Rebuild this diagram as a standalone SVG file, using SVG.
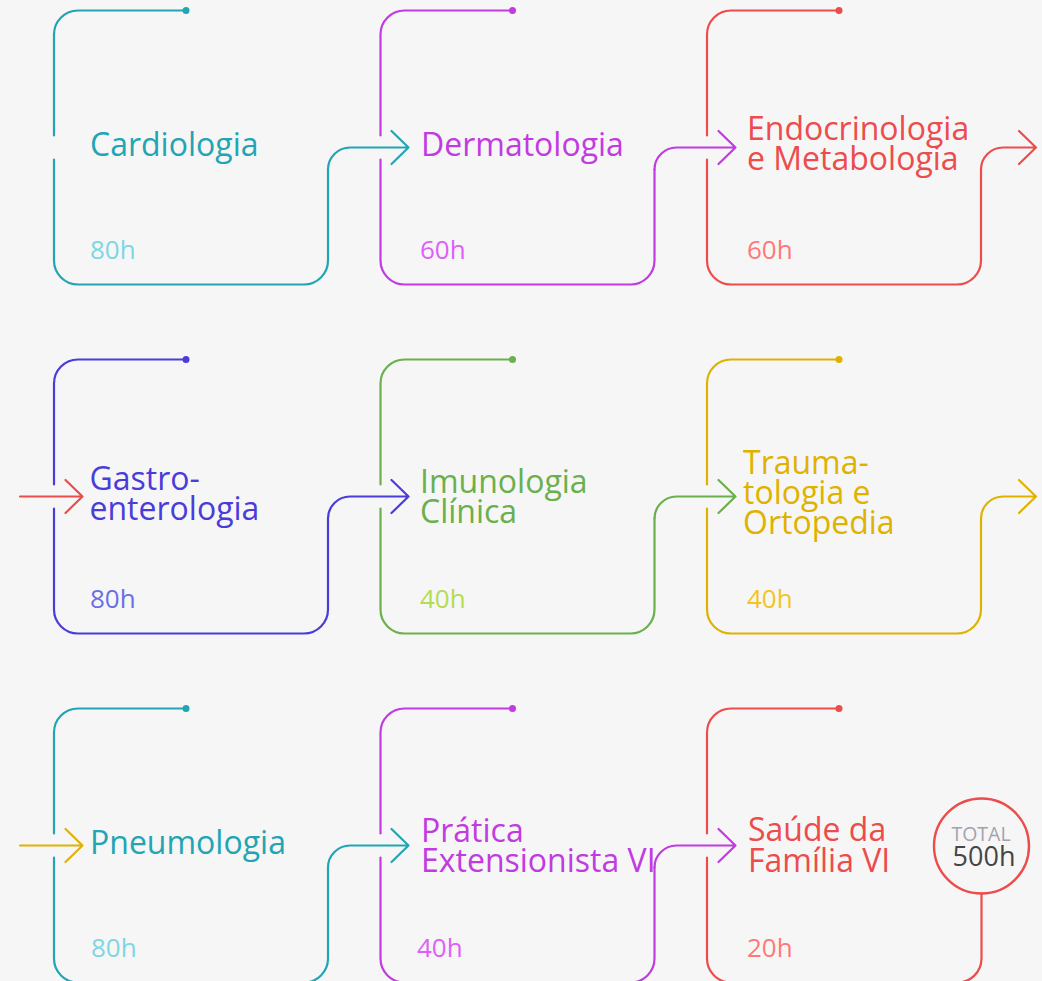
<svg xmlns="http://www.w3.org/2000/svg" width="1042" height="981" viewBox="0 0 1042 981">
<style>
.ln{fill:none;stroke-width:2.2;stroke-linecap:round;stroke-linejoin:round}
.t{font-family:"Open Sans","Noto Sans","Liberation Sans",sans-serif;font-size:32px}
.h{font-family:"Open Sans","Noto Sans","Liberation Sans",sans-serif;font-size:26px}
.teal{stroke:#21a5b4}.tealF{fill:#21a5b4}.tealH{fill:#7dd6e2}
.pur{stroke:#c13be0}.purF{fill:#c13be0}.purH{fill:#de5ff8}
.red{stroke:#ec4c4c}.redF{fill:#ec4c4c}.redH{fill:#ff7878}
.blu{stroke:#4a3cd8}.bluF{fill:#4a3cd8}.bluH{fill:#6a6ee6}
.grn{stroke:#6ab04c}.grnF{fill:#6ab04c}.grnH{fill:#b4dc50}
.yel{stroke:#e0b200}.yelF{fill:#e0b200}.yelH{fill:#f4c41c}
</style>
<rect x="0" y="0" width="1042" height="981" fill="#f6f6f7"/>

<g id="connectors">
  <path class="ln teal" d="M328,169.5 A22,22 0 0 1 350,147.5 H408.5 M391.5,131 L408.5,147.5 L391.5,164"/>
  <path class="ln pur" d="M654.5,169.5 A22,22 0 0 1 676.5,147.5 H735.5 M718.5,131 L735.5,147.5 L718.5,164"/>
  <path class="ln red" d="M981,169.5 A22,22 0 0 1 1003,147.5 H1036 M1019,131 L1036,147.5 L1019,164"/>
  <path class="ln red" d="M20,496.5 H82.5 M65.5,480 L82.5,496.5 L65.5,513"/>
  <path class="ln blu" d="M328,518.5 A22,22 0 0 1 350,496.5 H408.5 M391.5,480 L408.5,496.5 L391.5,513"/>
  <path class="ln grn" d="M654.5,518.5 A22,22 0 0 1 676.5,496.5 H735.5 M718.5,480 L735.5,496.5 L718.5,513"/>
  <path class="ln yel" d="M981,518.5 A22,22 0 0 1 1003,496.5 H1036 M1019,480 L1036,496.5 L1019,513"/>
  <path class="ln yel" d="M20,845.5 H82.5 M65.5,829 L82.5,845.5 L65.5,862"/>
  <path class="ln teal" d="M328,867.5 A22,22 0 0 1 350,845.5 H408.5 M391.5,829 L408.5,845.5 L391.5,862"/>
  <path class="ln pur" d="M654.5,867.5 A22,22 0 0 1 676.5,845.5 H735.5 M718.5,829 L735.5,845.5 L718.5,862"/>
</g>

<g id="node-cardiologia">
  <path class="ln teal" d="M186,10.5 H78 A24,24 0 0 0 54,34.5 V135.5 M54,159.5 V260.5 A24,24 0 0 0 78,284.5 H304 A24,24 0 0 0 328,260.5 V169.5"/>
  <circle cx="186" cy="10.5" r="3.5" class="tealF"/>
  <text class="t tealF" x="90" y="156">Cardiologia</text>
  <text class="h tealH" x="90" y="259">80h</text>
</g>

<g id="node-dermatologia">
  <path class="ln pur" d="M512.5,10.5 H404.5 A24,24 0 0 0 380.5,34.5 V135.5 M380.5,159.5 V260.5 A24,24 0 0 0 404.5,284.5 H630.5 A24,24 0 0 0 654.5,260.5 V169.5"/>
  <circle cx="512.5" cy="10.5" r="3.5" class="purF"/>
  <text class="t purF" x="421" y="156">Dermatologia</text>
  <text class="h purH" x="420" y="259">60h</text>
</g>

<g id="node-endocrinologia">
  <path class="ln red" d="M839,10.5 H731 A24,24 0 0 0 707,34.5 V135.5 M707,159.5 V260.5 A24,24 0 0 0 731,284.5 H957 A24,24 0 0 0 981,260.5 V169.5"/>
  <circle cx="839" cy="10.5" r="3.5" class="redF"/>
  <text class="t redF" x="747" y="140">Endocrinologia</text>
  <text class="t redF" x="747" y="170">e Metabologia</text>
  <text class="h redH" x="747" y="259">60h</text>
</g>

<g id="node-gastroenterologia">
  <path class="ln blu" d="M186,359.5 H78 A24,24 0 0 0 54,383.5 V484.5 M54,508.5 V609.5 A24,24 0 0 0 78,633.5 H304 A24,24 0 0 0 328,609.5 V518.5"/>
  <circle cx="186" cy="359.5" r="3.5" class="bluF"/>
  <text class="t bluF" x="89.5" y="490">Gastro-</text>
  <text class="t bluF" x="89.5" y="520">enterologia</text>
  <text class="h bluH" x="90" y="608">80h</text>
</g>

<g id="node-imunologia">
  <path class="ln grn" d="M512.5,359.5 H404.5 A24,24 0 0 0 380.5,383.5 V484.5 M380.5,508.5 V609.5 A24,24 0 0 0 404.5,633.5 H630.5 A24,24 0 0 0 654.5,609.5 V518.5"/>
  <circle cx="512.5" cy="359.5" r="3.5" class="grnF"/>
  <text class="t grnF" x="420" y="493">Imunologia</text>
  <text class="t grnF" x="420" y="523">Clínica</text>
  <text class="h grnH" x="420" y="608">40h</text>
</g>

<g id="node-traumatologia">
  <path class="ln yel" d="M839,359.5 H731 A24,24 0 0 0 707,383.5 V484.5 M707,508.5 V609.5 A24,24 0 0 0 731,633.5 H957 A24,24 0 0 0 981,609.5 V518.5"/>
  <circle cx="839" cy="359.5" r="3.5" class="yelF"/>
  <text class="t yelF" x="743" y="474">Trauma-</text>
  <text class="t yelF" x="743" y="504">tologia e</text>
  <text class="t yelF" x="743" y="534">Ortopedia</text>
  <text class="h yelH" x="747" y="608">40h</text>
</g>

<g id="node-pneumologia">
  <path class="ln teal" d="M186,708.5 H78 A24,24 0 0 0 54,732.5 V833.5 M54,857.5 V958.5 A24,24 0 0 0 78,982.5 H304 A24,24 0 0 0 328,958.5 V867.5"/>
  <circle cx="186" cy="708.5" r="3.5" class="tealF"/>
  <text class="t tealF" x="90" y="854">Pneumologia</text>
  <text class="h tealH" x="91" y="957">80h</text>
</g>

<g id="node-pratica">
  <path class="ln pur" d="M512.5,708.5 H404.5 A24,24 0 0 0 380.5,732.5 V833.5 M380.5,857.5 V958.5 A24,24 0 0 0 404.5,982.5 H630.5 A24,24 0 0 0 654.5,958.5 V867.5"/>
  <circle cx="512.5" cy="708.5" r="3.5" class="purF"/>
  <text class="t purF" x="421" y="842">Prática</text>
  <text class="t purF" x="421" y="872">Extensionista VI</text>
  <text class="h purH" x="417" y="957">40h</text>
</g>

<g id="node-saude">
  <path class="ln red" d="M839,708.5 H731 A24,24 0 0 0 707,732.5 V833.5 M707,857.5 V958.5 A24,24 0 0 0 731,982.5 H957 A24,24 0 0 0 981.5,958.5 V893.5"/>
  <circle cx="839" cy="708.5" r="3.5" class="redF"/>
  <text class="t redF" x="748" y="841">Saúde da</text>
  <text class="t redF" x="748" y="872">Família VI</text>
  <text class="h redH" x="747" y="957">20h</text>
</g>

<g id="node-total">
  <circle cx="981.5" cy="846" r="47.5" fill="none" stroke="#ec4c4c" stroke-width="2.4"/>
  <text x="981" y="841" text-anchor="middle" font-family="'Open Sans','Noto Sans','Liberation Sans',sans-serif" font-size="19.5" fill="#a3a3ab">TOTAL</text>
  <text x="984" y="866" text-anchor="middle" font-family="'Open Sans','Noto Sans','Liberation Sans',sans-serif" font-size="27" fill="#454545">500h</text>
</g>
</svg>
